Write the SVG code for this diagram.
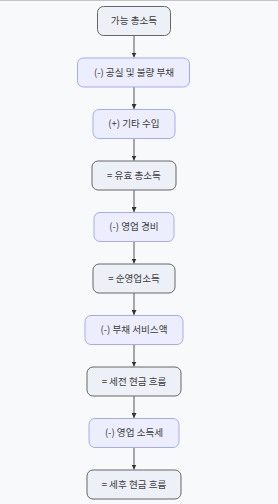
<svg xmlns="http://www.w3.org/2000/svg" width="278" height="504" viewBox="0 0 278 504">
<style>
.bg{fill:#f8f9fb}
.n rect{rx:6;ry:6;stroke-width:1}
.eq rect{fill:#eef0f8;stroke:#666}
.op rect{fill:#eceefd;stroke:#a6aaf0}
text{font-family:"Noto Sans CJK KR","Noto Sans",sans-serif;font-size:9.6px;fill:#3c3c3c;text-anchor:middle}
.c line{stroke:#555;stroke-width:1}
</style>
<defs>
<marker id="ah" viewBox="0 0 10 10" refX="10" refY="5" markerWidth="5" markerHeight="5" orient="auto" markerUnits="userSpaceOnUse">
<path d="M0,0L10,5L0,10z" fill="#333"/>
</marker>
</defs>
<rect class="bg" x="0" y="0" width="278" height="504"/>
<line x1="0" y1="0.5" x2="278" y2="0.5" stroke="#c4c4c4"/>
<g class="c">
<line x1="134" y1="35.5" x2="134" y2="57.5" marker-end="url(#ah)"/>
<line x1="134" y1="87" x2="134" y2="109" marker-end="url(#ah)"/>
<line x1="134" y1="138.5" x2="134" y2="160.5" marker-end="url(#ah)"/>
<line x1="134" y1="190" x2="134" y2="212" marker-end="url(#ah)"/>
<line x1="134" y1="241.5" x2="134" y2="263.5" marker-end="url(#ah)"/>
<line x1="134" y1="293" x2="134" y2="315" marker-end="url(#ah)"/>
<line x1="134" y1="344.5" x2="134" y2="366.5" marker-end="url(#ah)"/>
<line x1="134" y1="396" x2="134" y2="418" marker-end="url(#ah)"/>
<line x1="134" y1="447.5" x2="134" y2="469.5" marker-end="url(#ah)"/>
</g>
<g id="n1" class="n eq"><rect x="97.5" y="6.5" width="73" height="29"/><text x="134" y="24.4">가능 총소득</text></g>
<g id="n2" class="n op"><rect x="77.5" y="58" width="112" height="29"/><text x="134" y="75.9">(-) 공실 및 불량 부채</text></g>
<g id="n3" class="n op"><rect x="93" y="109.5" width="82" height="29"/><text x="134" y="127.4">(+) 기타 수입</text></g>
<g id="n4" class="n eq"><rect x="92" y="161" width="84" height="29"/><text x="134" y="178.9">= 유효 총소득</text></g>
<g id="n5" class="n op"><rect x="94" y="212.5" width="80" height="29"/><text x="134" y="230.4">(-) 영업 경비</text></g>
<g id="n6" class="n eq"><rect x="93" y="264" width="82" height="29"/><text x="134" y="281.9">= 순영업소득</text></g>
<g id="n7" class="n op"><rect x="85" y="315.5" width="98" height="29"/><text x="134" y="333.4">(-) 부채 서비스액</text></g>
<g id="n8" class="n eq"><rect x="87" y="367" width="94" height="29"/><text x="134" y="384.9">= 세전 현금 흐름</text></g>
<g id="n9" class="n op"><rect x="89" y="418.5" width="90" height="29"/><text x="134" y="436.4">(-) 영업 소득세</text></g>
<g id="n10" class="n eq"><rect x="87" y="470" width="94" height="29"/><text x="134" y="487.9">= 세후 현금 흐름</text></g>
</svg>
